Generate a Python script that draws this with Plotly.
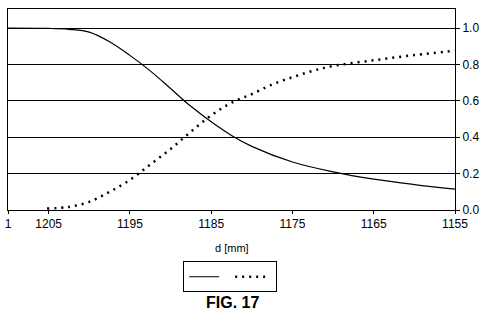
import plotly.graph_objects as go

# Data
d_solid = [1210, 1205, 1202.5, 1200, 1197.5, 1195, 1192.5, 1190, 1187.5, 1185,
           1182.5, 1180, 1175, 1170, 1165, 1160, 1155]
v_solid = [1.0, 0.998, 0.993, 0.978, 0.925, 0.85, 0.765, 0.668, 0.57, 0.485,
           0.41, 0.35, 0.264, 0.21, 0.17, 0.14, 0.115]

d_dot = [1205.2, 1202.5, 1200, 1197.5, 1195, 1192.5, 1190, 1187.5, 1185, 1182.5,
         1180, 1177.5, 1175, 1172.5, 1170, 1165, 1160, 1155]
v_dot = [0.008, 0.017, 0.045, 0.1, 0.165, 0.25, 0.335, 0.43, 0.52, 0.59,
         0.637, 0.69, 0.73, 0.765, 0.792, 0.823, 0.852, 0.875]

x_tickvals = [1210, 1205, 1195, 1185, 1175, 1165, 1155]
x_ticktext = ["1", "1205", "1195", "1185", "1175", "1165", "1155"]
y_tickvals = [0.0, 0.2, 0.4, 0.6, 0.8, 1.0]

FONT = "Liberation Sans, Arial, sans-serif"

fig = go.Figure()
fig.add_trace(go.Scatter(x=d_solid, y=v_solid, mode="lines", name="",
                         line=dict(color="black", width=1.2, shape="spline")))
fig.add_trace(go.Scatter(x=d_dot, y=v_dot, mode="lines", name="",
                         line=dict(color="black", width=2.5, dash="2px,5px", shape="spline")))

fig.update_layout(
    width=484, height=320,
    margin=dict(l=5, r=28, t=9, b=110),
    paper_bgcolor="white", plot_bgcolor="white",
    font=dict(family=FONT, size=12, color="black"),
    showlegend=True,
    legend=dict(orientation="h", x=0.497, xanchor="center", y=-0.255, yanchor="top",
                bordercolor="black", borderwidth=1, itemwidth=30,
                entrywidth=1, entrywidthmode="pixels",
                font=dict(size=4), tracegroupgap=0),
    xaxis=dict(range=[1210, 1155], tickvals=x_tickvals, ticktext=x_ticktext,
               showgrid=False, zeroline=False, showline=True, linecolor="black",
               linewidth=1, mirror=True, ticks="outside", ticklen=3,
               tickcolor="black", tickfont=dict(size=12)),
    yaxis=dict(range=[0, 1.105], tickvals=y_tickvals, tickformat=".1f",
               side="right", showgrid=True, gridcolor="black", gridwidth=1,
               zeroline=False, showline=True, linecolor="black", linewidth=1,
               mirror=True, ticks="outside", ticklen=4, tickcolor="black",
               tickfont=dict(size=12)),
    annotations=[
        dict(text="d [mm]", x=0.502, y=-0.19, xref="paper", yref="paper",
             xanchor="center", yanchor="middle", showarrow=False,
             font=dict(size=11)),
        dict(text="<b>FIG. 17</b>", x=0.502, y=-0.46, xref="paper", yref="paper",
             xanchor="center", yanchor="middle", showarrow=False,
             font=dict(size=16)),
    ],
)

fig.write_html("out.html")
